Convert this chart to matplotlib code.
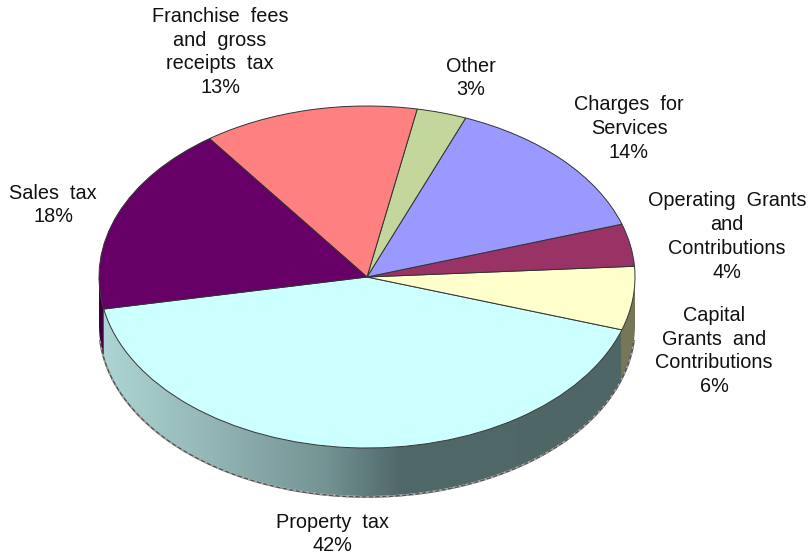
import matplotlib
matplotlib.use('Agg')
import matplotlib.pyplot as plt
import numpy as np
from matplotlib.colors import LinearSegmentedColormap
from matplotlib.patches import Polygon

plt.rcParams['font.family'] = ['Liberation Sans', 'DejaVu Sans']

# revenue shares, going counterclockwise from the property tax slice
categories = ['Property tax', 'Capital Grants and Contributions', 'Operating Grants and Contributions',
              'Charges for Services', 'Other', 'Franchise fees and gross receipts tax', 'Sales tax']
shares = [42, 6, 4, 14, 3, 13, 18]
slice_colors = ['#ccffff', '#ffffcc', '#993366', '#9999ff', '#c3d69b', '#ff8080', '#660066']

label_texts = ['Property  tax\n42%', 'Capital\nGrants  and\nContributions\n6%',
               'Operating  Grants\nand\nContributions\n4%', 'Charges  for\nServices\n14%',
               'Other\n3%', 'Franchise  fees\nand  gross\nreceipts  tax\n13%', 'Sales  tax\n18%']
label_x = [332, 714, 727, 629, 471, 220, 53]
label_y = [534, 351, 236.5, 128.5, 78, 52, 205]

width, height = 809, 554
cx, cy = 367, 277
rx, ry = 268, 171
depth = 48 / ry
start_angle = 190.8

fig = plt.figure(figsize=(width / 100, height / 100), dpi=100)
ax = fig.add_axes([0, 0, 1, 1])

wedges, _ = ax.pie(shares, colors=slice_colors, startangle=start_angle, radius=1,
                   wedgeprops={'edgecolor': '#333333', 'linewidth': 0.7})
ax.set_aspect('auto')


def wall_points(a1, a2):
    t = np.radians(np.linspace(a1, a2, 200))
    x = np.cos(t)
    y = np.sin(t)
    return np.concatenate([np.column_stack([x, y]),
                           np.column_stack([x[::-1], y[::-1] - depth])])


def draw_wall(a1, a2, cmap):
    # rim of a slice, shaded from left to right
    pts = wall_points(a1, a2)
    x0, x1 = pts[:, 0].min(), pts[:, 0].max()
    y0, y1 = pts[:, 1].min(), pts[:, 1].max()
    grad = np.linspace(x0, x1, 400).reshape(1, -1)
    im = ax.imshow(grad, extent=(x0, x1, y0, y1), cmap=cmap, vmin=-1, vmax=1,
                   aspect='auto', zorder=0, interpolation='bilinear')
    clip = Polygon(pts, closed=True, transform=ax.transData, facecolor='none', edgecolor='none')
    ax.add_patch(clip)
    im.set_clip_path(clip)


property_rim = LinearSegmentedColormap.from_list(
    'property_rim', [(0, '#aed6d6'), (0.24, '#8fb0b0'), (0.42, '#749494'), (0.56, '#506868'), (1, '#4f6666')])
sales_rim = LinearSegmentedColormap.from_list('sales_rim', ['#3d003d', '#3d003d'])
capital_rim = LinearSegmentedColormap.from_list('capital_rim', ['#6e6e52', '#77775a'])

draw_wall(start_angle, start_angle + shares[0] * 3.6, property_rim)
draw_wall(180, start_angle, sales_rim)
draw_wall(start_angle + shares[0] * 3.6, 360, capital_rim)

# speckled bottom edge of the disc
t = np.radians(np.linspace(185, 355, 400))
ax.plot(np.cos(t), np.sin(t) - depth - 1 / ry, color='#555555', lw=1.2, zorder=0.5)
ax.plot(np.cos(t), np.sin(t) - depth - 1 / ry, color='#a8a8a8', lw=1.2, zorder=0.6,
        dashes=(1.5, 2.5))

ax.set_xlim(-cx / rx, (width - cx) / rx)
ax.set_ylim((cy - height) / ry, cy / ry)
ax.axis('off')

for text, x, y in zip(label_texts, label_x, label_y):
    fig.text(x / width, 1 - y / height, text, ha='center', va='center',
             fontsize=14.3, linespacing=1.315, color='#111111')

fig.savefig('out.png', dpi=100)
